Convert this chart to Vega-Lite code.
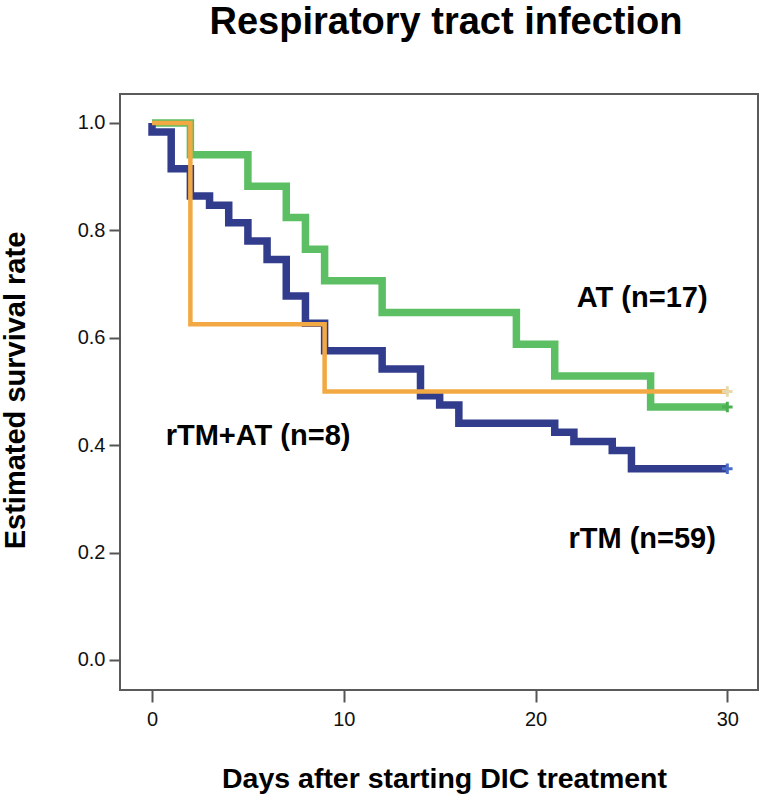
{
  "$schema": "https://vega.github.io/schema/vega-lite/v6.json",
  "autosize": {"type": "none"},
  "padding": {"left": 120, "top": 94, "right": 8, "bottom": 106},
  "width": 638,
  "height": 596,
  "background": "white",
  "config": {
    "font": "Liberation Sans",
    "view": {"stroke": "#5a5a5a", "strokeWidth": 2}
  },
  "title": {
    "text": "Respiratory tract infection",
    "fontSize": 38,
    "fontWeight": "bold",
    "font": "Liberation Sans",
    "color": "#000000",
    "anchor": "middle",
    "baseline": "alphabetic",
    "offset": 22,
    "dx": 7
  },
  "datasets": {
    "at": [
      {"day": 0, "surv": 1.0, "i": 0},
      {"day": 2, "surv": 0.941, "i": 1},
      {"day": 5, "surv": 0.882, "i": 2},
      {"day": 7, "surv": 0.824, "i": 3},
      {"day": 8, "surv": 0.765, "i": 4},
      {"day": 9, "surv": 0.706, "i": 5},
      {"day": 12, "surv": 0.647, "i": 6},
      {"day": 19, "surv": 0.588, "i": 7},
      {"day": 21, "surv": 0.529, "i": 8},
      {"day": 26, "surv": 0.471, "i": 9},
      {"day": 30, "surv": 0.471, "i": 10}
    ],
    "rtm": [
      {"day": 0, "surv": 1.0, "i": 0},
      {"day": 0, "surv": 0.983, "i": 1},
      {"day": 1, "surv": 0.915, "i": 2},
      {"day": 2, "surv": 0.864, "i": 3},
      {"day": 3, "surv": 0.847, "i": 4},
      {"day": 4, "surv": 0.814, "i": 5},
      {"day": 5, "surv": 0.78, "i": 6},
      {"day": 6, "surv": 0.746, "i": 7},
      {"day": 7, "surv": 0.678, "i": 8},
      {"day": 8, "surv": 0.627, "i": 9},
      {"day": 9, "surv": 0.576, "i": 10},
      {"day": 12, "surv": 0.542, "i": 11},
      {"day": 14, "surv": 0.492, "i": 12},
      {"day": 15, "surv": 0.475, "i": 13},
      {"day": 16, "surv": 0.441, "i": 14},
      {"day": 21, "surv": 0.424, "i": 15},
      {"day": 22, "surv": 0.407, "i": 16},
      {"day": 24, "surv": 0.39, "i": 17},
      {"day": 25, "surv": 0.356, "i": 18},
      {"day": 30, "surv": 0.356, "i": 19}
    ],
    "rtmat": [
      {"day": 0, "surv": 1.0, "i": 0},
      {"day": 2, "surv": 0.625, "i": 1},
      {"day": 9, "surv": 0.5, "i": 2},
      {"day": 30, "surv": 0.5, "i": 3}
    ],
    "censor": [
      {"group": "rTM", "day": 30, "surv": 0.356},
      {"group": "AT", "day": 30, "surv": 0.471},
      {"group": "rTM+AT", "day": 30, "surv": 0.5}
    ],
    "labels": [
      {"label": "AT (n=17)", "day": 25.56, "surv": 0.657},
      {"label": "rTM+AT (n=8)", "day": 5.53, "surv": 0.4},
      {"label": "rTM (n=59)", "day": 25.56, "surv": 0.209}
    ]
  },
  "encoding": {
    "x": {
      "field": "day",
      "type": "quantitative",
      "scale": {"domain": [-1.67, 31.6], "nice": false, "zero": false},
      "axis": {
        "values": [0, 10, 20, 30],
        "grid": false,
        "domain": false,
        "tickSize": 12,
        "tickWidth": 2,
        "tickColor": "#555555",
        "labelFontSize": 20,
        "labelColor": "#111111",
        "labelPadding": 7,
        "title": "Days after starting DIC treatment",
        "titleFontSize": 28.5,
        "titleFontWeight": "bold",
        "titleColor": "#000000",
        "titleBaseline": "alphabetic",
        "titleY": 97,
        "titleX": 324
      }
    },
    "y": {
      "field": "surv",
      "type": "quantitative",
      "scale": {"domain": [-0.056, 1.054], "nice": false, "zero": false},
      "axis": {
        "values": [0, 0.2, 0.4, 0.6, 0.8, 1.0],
        "format": ".1f",
        "grid": false,
        "domain": false,
        "tickSize": 11,
        "tickWidth": 2,
        "tickColor": "#555555",
        "labelFontSize": 20,
        "labelColor": "#111111",
        "labelPadding": 4,
        "title": "Estimated survival rate",
        "titleFontSize": 29,
        "titleFontWeight": "bold",
        "titleColor": "#000000",
        "titleAngle": -90,
        "titleAlign": "center",
        "titleBaseline": "middle",
        "titleX": -105,
        "titleY": 296
      }
    }
  },
  "layer": [
    {
      "data": {"name": "at"},
      "mark": {"type": "line", "interpolate": "step-after", "color": "#5dbf63", "strokeWidth": 7.5},
      "encoding": {"order": {"field": "i", "type": "quantitative"}}
    },
    {
      "data": {"name": "rtm"},
      "mark": {"type": "line", "interpolate": "step-after", "color": "#323c8d", "strokeWidth": 7.5},
      "encoding": {"order": {"field": "i", "type": "quantitative"}}
    },
    {
      "data": {"name": "rtmat"},
      "mark": {"type": "line", "interpolate": "step-after", "color": "#f3a943", "strokeWidth": 4.5},
      "encoding": {"order": {"field": "i", "type": "quantitative"}}
    },
    {
      "data": {"name": "censor"},
      "mark": {"type": "point", "shape": "M-1,0L1,0M0,-1L0,1", "filled": false, "size": 110, "strokeWidth": 3, "opacity": 1},
      "encoding": {
        "color": {
          "field": "group",
          "type": "nominal",
          "scale": {"domain": ["rTM", "AT", "rTM+AT"], "range": ["#4a6cc8", "#4cb052", "#e6d9ae"]},
          "legend": null
        }
      }
    },
    {
      "data": {"name": "labels"},
      "mark": {"type": "text", "fontSize": 29, "fontWeight": "bold", "align": "center", "baseline": "alphabetic", "color": "#000000"},
      "encoding": {"text": {"field": "label"}}
    }
  ]
}
